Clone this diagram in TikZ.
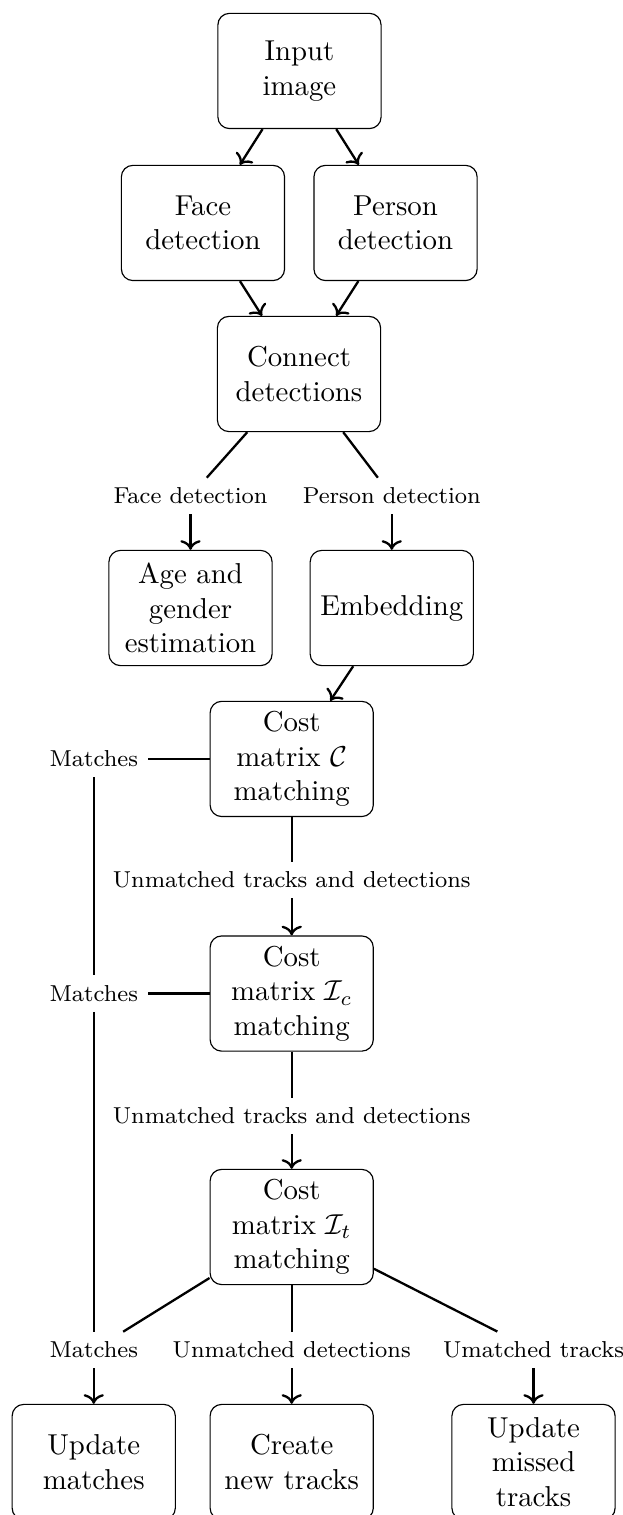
\documentclass[tikz,border=0pt]{standalone}
\usepackage{amsmath}
\usepackage{amssymb}
\usetikzlibrary{positioning,arrows.meta}

\begin{document}
\begin{tikzpicture}[
    blk/.style={draw, rounded corners, text width=5em, align=center, minimum height=4em},
    lbl/.style={font=\footnotesize},
    con/.style={thick},
    arr/.style={thick, ->}]
    \useasboundingbox (0,0) rectangle (7.591,-18.489);

    % detection stage
    \node[blk] (inp)  at (3.655,-0.866) {Input\\image};
    \node[blk] (face) at (2.477,-2.721) {Face\\detection};
    \node[blk] (pers) at (4.827,-2.721) {Person\\detection};
    \node[blk] (conn) at (3.649,-4.564) {Connect\\detections};

    \node[lbl] (lface) at (2.325,-6.053) {Face detection};
    \node[lbl] (lpers) at (4.781,-6.053) {Person detection};

    \node[blk] (age) at (2.325,-7.420) {Age and\\gender\\estimation};
    \node[blk] (emb) at (4.781,-7.420) {Embedding};

    % matching cascade
    \node[blk] (costc) at (3.56,-9.262)  {Cost\\matrix $\mathcal{C}$\\matching};
    \node[blk] (costi) at (3.56,-12.125) {Cost\\matrix $\mathcal{I}_c$\\matching};
    \node[blk] (costt) at (3.56,-14.974) {Cost\\matrix $\mathcal{I}_t$\\matching};

    \node[lbl] (lmatcha) at (1.144,-9.262)  {Matches};
    \node[lbl] (lmatchb) at (1.144,-12.125) {Matches};
    \node[lbl] (lmatchc) at (1.144,-16.475) {Matches};
    \node[lbl] (lunma)   at (3.56,-10.740) {Unmatched tracks and detections};
    \node[lbl] (lunmb)   at (3.56,-13.620) {Unmatched tracks and detections};
    \node[lbl] (lunmdet) at (3.56,-16.475) {Unmatched detections};
    \node[lbl] (lumtr)   at (6.511,-16.475) {Umatched tracks};

    \node[blk] (upd)  at (1.144,-17.842) {Update\\matches};
    \node[blk] (newt) at (3.56,-17.842)  {Create\\new tracks};
    \node[blk] (miss) at (6.511,-17.842) {Update\\missed\\tracks};

    \foreach \a/\b in {inp/face, inp/pers, face/conn, pers/conn, lface/age, lpers/emb,
                       emb/costc, lunma/costi, lunmb/costt, lmatchc/upd, lunmdet/newt, lumtr/miss}
        \draw[arr] (\a) -- (\b);
    \foreach \a/\b in {conn/lface, conn/lpers, costc/lmatcha, costi/lmatchb, lmatcha/lmatchb,
                       lmatchb/lmatchc, costc/lunma, costi/lunmb, costt/lmatchc, costt/lunmdet, costt/lumtr}
        \draw[con] (\a) -- (\b);
\end{tikzpicture}
\end{document}
